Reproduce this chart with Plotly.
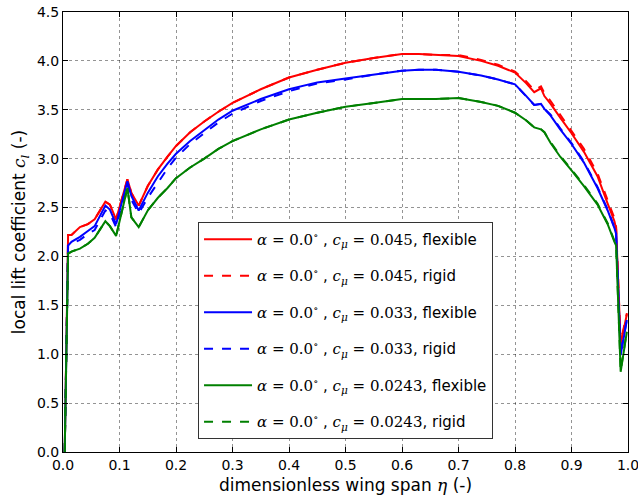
import plotly.graph_objects as go

eta = [0.003, 0.009, 0.015, 0.03, 0.044, 0.056, 0.075, 0.083, 0.094, 0.104, 0.114, 0.121, 0.134, 0.15, 0.168,
       0.185, 0.2, 0.225, 0.25, 0.275, 0.3, 0.35, 0.4, 0.45, 0.5, 0.55, 0.6, 0.63, 0.66, 0.7, 0.74, 0.77, 0.8,
       0.82, 0.834, 0.846, 0.852, 0.863, 0.88, 0.9, 0.922, 0.946, 0.964, 0.976, 0.979, 0.987, 0.998]

red_flex = [0.0, 2.22, 2.22, 2.30, 2.33, 2.38, 2.56, 2.53, 2.38, 2.58, 2.79, 2.65, 2.52, 2.72, 2.89,
            3.02, 3.13, 3.27, 3.38, 3.48, 3.57, 3.71, 3.83, 3.91, 3.98, 4.03, 4.07, 4.07, 4.06, 4.05, 4.00, 3.95, 3.88,
            3.77, 3.68, 3.72, 3.64, 3.56, 3.42, 3.26, 3.07, 2.82, 2.54, 2.36, 2.28, 1.10, 1.41]
red_rigid = [0.0, 2.22, 2.22, 2.30, 2.33, 2.38, 2.56, 2.53, 2.38, 2.58, 2.79, 2.65, 2.52, 2.72, 2.89,
             3.02, 3.13, 3.27, 3.38, 3.48, 3.57, 3.71, 3.83, 3.91, 3.98, 4.03, 4.07, 4.07, 4.06, 4.06, 4.01, 3.96, 3.89,
             3.79, 3.70, 3.74, 3.67, 3.59, 3.45, 3.29, 3.10, 2.85, 2.57, 2.39, 2.30, 1.12, 1.42]
blue_flex = [0.0, 2.11, 2.15, 2.20, 2.26, 2.31, 2.52, 2.48, 2.33, 2.55, 2.77, 2.62, 2.47, 2.65, 2.82,
             2.95, 3.05, 3.18, 3.29, 3.40, 3.49, 3.61, 3.71, 3.78, 3.82, 3.86, 3.90, 3.91, 3.91, 3.89, 3.85, 3.81, 3.76,
             3.64, 3.55, 3.56, 3.51, 3.44, 3.30, 3.15, 2.96, 2.70, 2.47, 2.29, 2.23, 0.99, 1.35]
blue_rigid = [0.0, 2.11, 2.13, 2.17, 2.23, 2.27, 2.47, 2.44, 2.30, 2.52, 2.74, 2.58, 2.44, 2.60, 2.76,
              2.90, 3.01, 3.15, 3.26, 3.37, 3.46, 3.59, 3.69, 3.77, 3.81, 3.86, 3.90, 3.91, 3.91, 3.89, 3.85, 3.81, 3.76,
              3.64, 3.55, 3.56, 3.51, 3.45, 3.31, 3.16, 2.97, 2.71, 2.48, 2.30, 2.23, 1.00, 1.36]
green_flex = [0.0, 2.03, 2.05, 2.08, 2.13, 2.19, 2.36, 2.31, 2.21, 2.45, 2.70, 2.40, 2.30, 2.47, 2.60,
              2.70, 2.80, 2.91, 3.00, 3.10, 3.18, 3.30, 3.40, 3.47, 3.53, 3.57, 3.61, 3.61, 3.61, 3.62, 3.58, 3.54, 3.47,
              3.39, 3.32, 3.30, 3.27, 3.16, 3.02, 2.88, 2.72, 2.53, 2.33, 2.15, 2.11, 0.82, 1.23]
green_rigid = [0.0, 2.03, 2.05, 2.08, 2.13, 2.19, 2.36, 2.31, 2.21, 2.45, 2.70, 2.40, 2.30, 2.47, 2.60,
               2.70, 2.80, 2.91, 3.00, 3.10, 3.18, 3.30, 3.40, 3.47, 3.53, 3.57, 3.61, 3.61, 3.61, 3.62, 3.58, 3.54, 3.47,
               3.39, 3.32, 3.30, 3.27, 3.17, 3.03, 2.89, 2.73, 2.54, 2.34, 2.16, 2.11, 0.83, 1.24]

cmu_labels = ["0.045", "0.045", "0.033", "0.033", "0.0243", "0.0243"]
kinds = ["flexible", "rigid", "flexible", "rigid", "flexible", "rigid"]
series = [red_flex, red_rigid, blue_flex, blue_rigid, green_flex, green_rigid]
colors = ["#ff0000", "#ff0000", "#0000ff", "#0000ff", "#008000", "#008000"]
dashes = ["solid", "dash", "solid", "dash", "solid", "dash"]

SERIF = "font-family:'DejaVu Serif'"

fig = go.Figure()
for i, (y, c, d, cm, k) in enumerate(zip(series, colors, dashes, cmu_labels, kinds)):
    name = (f"<span style=\"{SERIF}\"><i>α</i> = 0.0<sup>∘</sup></span> , "
            f"<span style=\"{SERIF}\"><i>c</i><sub><i>μ</i></sub> = {cm}</span>, {k}")
    fig.add_trace(go.Scatter(x=eta, y=y, mode="lines", name=name, legendgroup=f"g{i}",
                             line=dict(color=c, width=2, dash=d)))

axis_common = dict(showline=True, linecolor="black", linewidth=1, mirror="ticks",
                   ticks="inside", ticklen=5, tickcolor="black",
                   showgrid=True, gridcolor="rgba(0,0,0,0.42)", griddash="dot", gridwidth=1,
                   zeroline=False, tickfont=dict(size=14, color="black"),
                   ticklabeloverflow="allow", automargin=False)

fig.update_layout(
    width=638, height=495,
    margin=dict(l=63, r=10, t=12, b=43),
    paper_bgcolor="white", plot_bgcolor="white",
    font=dict(family="DejaVu Sans", color="black"),
    showlegend=True,
    legend=dict(x=0.239, y=0.523, xanchor="left", yanchor="top",
                bordercolor="#333333", borderwidth=1, bgcolor="white",
                font=dict(size=15, color="black"), tracegroupgap=14, itemwidth=48),
    xaxis=dict(range=[0, 1.0], tickvals=[0, 0.1, 0.2, 0.3, 0.4, 0.5, 0.6, 0.7, 0.8, 0.9, 1.0],
               ticktext=["0.0", "0.1", "0.2", "0.3", "0.4", "0.5", "0.6", "0.7", "0.8", "0.9", "1.0"],
               title=dict(text="dimensionless wing span <span style=\"font-family:'DejaVu Serif'\"><i>η</i></span> (-)",
                          font=dict(size=17), standoff=8),
               **axis_common),
    yaxis=dict(range=[0, 4.5], tickvals=[0, 0.5, 1.0, 1.5, 2.0, 2.5, 3.0, 3.5, 4.0, 4.5],
               ticktext=["0.0", "0.5", "1.0", "1.5", "2.0", "2.5", "3.0", "3.5", "4.0", "4.5"],
               title=dict(text="local lift coefficient <span style=\"font-family:'DejaVu Serif'\"><i>c</i><sub><i>l</i></sub></span> (-)",
                          font=dict(size=17), standoff=6),
               **axis_common),
)

fig.write_html("out.html")
